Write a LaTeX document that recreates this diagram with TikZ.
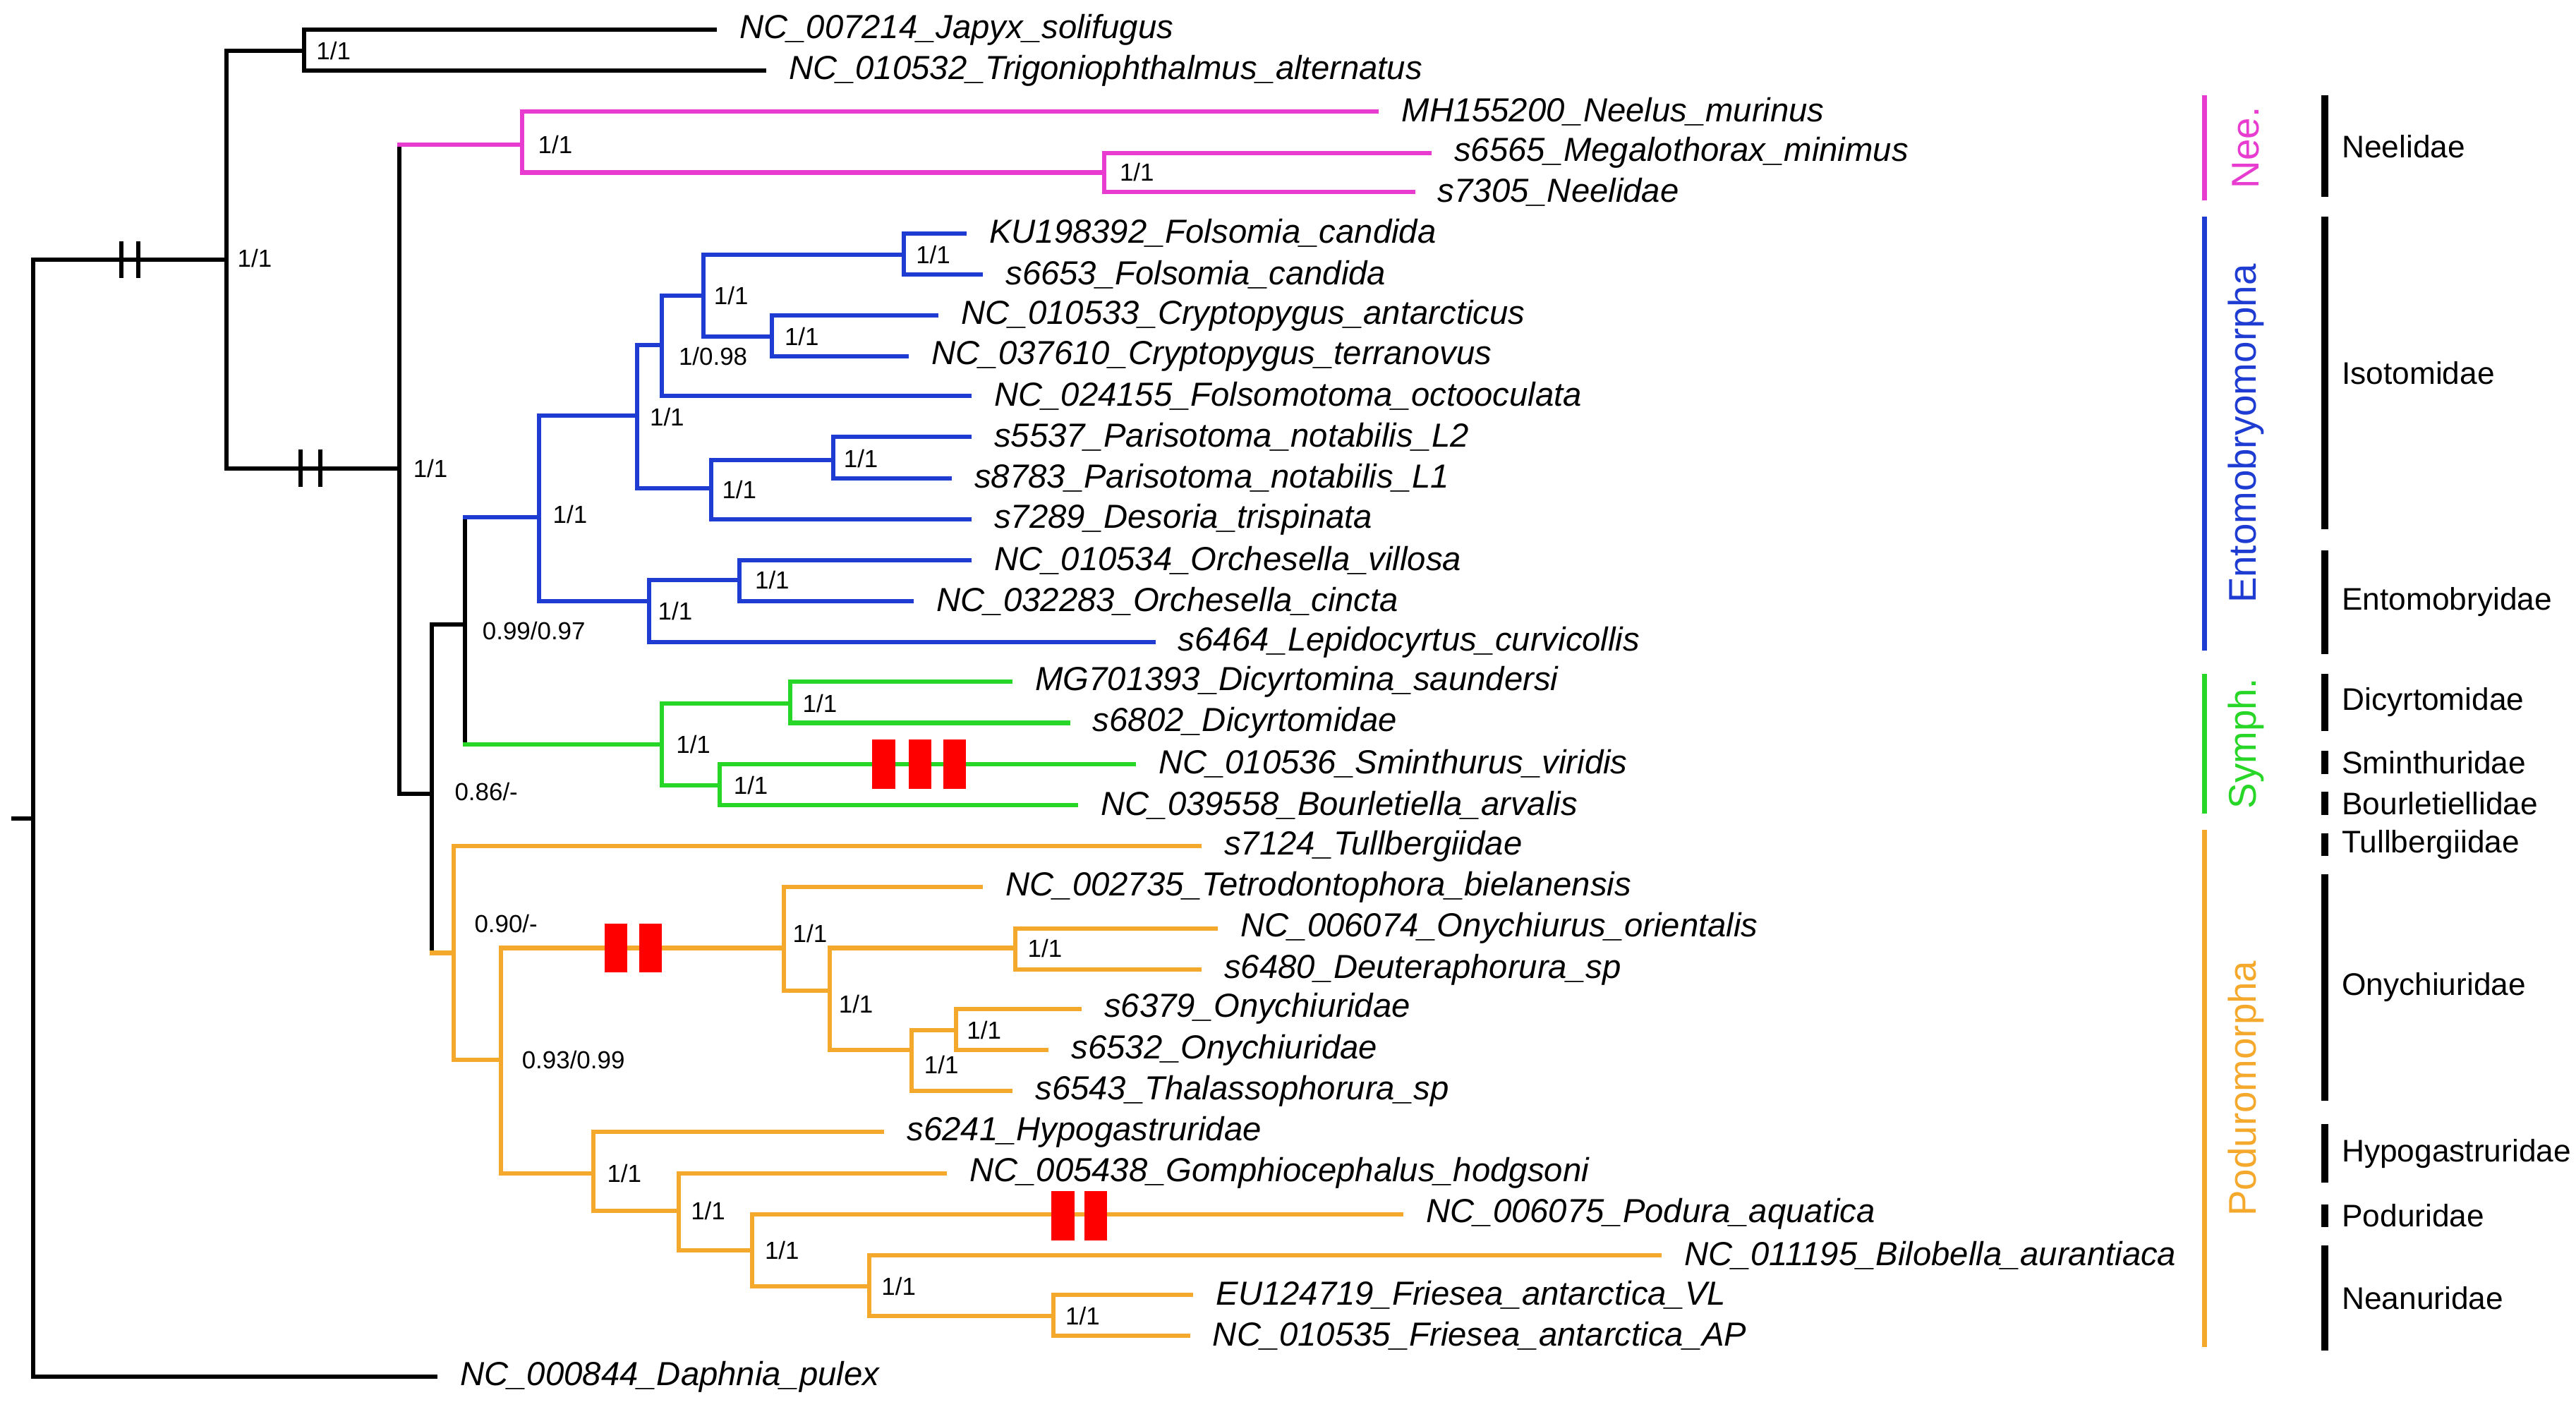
\documentclass[tikz,border=0pt]{standalone}
\usepackage{fontspec}
\setmainfont{Liberation Sans}
\usetikzlibrary{positioning}
\definecolor{magclade}{RGB}{232,60,208}
\definecolor{blueclade}{RGB}{30,60,210}
\definecolor{greenclade}{RGB}{40,214,40}
\definecolor{orgclade}{RGB}{244,168,44}
\begin{document}
\begin{tikzpicture}[x=1pt,y=-1pt]
	\tikzstyle{br}=[line width=2.6pt, line cap=rect]
	\tikzstyle{leaf}=[anchor=west, inner sep=0pt, font=\fontsize{20.3}{24}\selectfont\itshape]
	\tikzstyle{sup}=[font=\fontsize{15}{18}\selectfont]
	\tikzstyle{fam}=[anchor=west, font=\fontsize{19}{22}\selectfont]
	\tikzstyle{clade}=[rotate=90, font=\fontsize{23.5}{28}\selectfont]
	\tikzstyle{redmark}=[fill=red, draw=none]
	\useasboundingbox (0,0) rectangle (1568,856);
	
	% noeuds internes
	\foreach \n/\x/\y in {r/20/498, A/138/158, B/185/31, C/243/285, N/318/88, N2/672/105,
		E1/263/483, E2/283/380, EN/328/315, I/388/253, I1/403/210, I3/428/180, I4/550/155,
		I5/470/205, I2/433/297, I6/507/280, EB/395/366, EB1/450/353, S/403/453, S1/481/428,
		S2/438/478, P/276/580, P1/305/645, O/477/577, O1/505/603, O2/618/577, O3/555/639,
		O4/582/627, H/361/714, H1/413/737, H2/458/761, H3/529/783, H4/641/801}
		\coordinate (\n) at (\x,\y);
	\coordinate (r0) at (8,498);
	
	% feuilles
	\foreach \n/\x/\y/\t in {japyx/435/18/NC\_007214\_Japyx\_solifugus,
		trigo/465/43/NC\_010532\_Trigoniophthalmus\_alternatus,
		neelus/838/68/MH155200\_Neelus\_murinus,
		mega/870/93/s6565\_Megalothorax\_minimus,
		neel/860/117/s7305\_Neelidae,
		fcand/587/142/KU198392\_Folsomia\_candida,
		fcandb/597/167/s6653\_Folsomia\_candida,
		cant/570/192/NC\_010533\_Cryptopygus\_antarcticus,
		cter/552/217/NC\_037610\_Cryptopygus\_terranovus,
		focto/590/241/NC\_024155\_Folsomotoma\_octooculata,
		pnotb/590/266/s5537\_Parisotoma\_notabilis\_L2,
		pnota/578/291/s8783\_Parisotoma\_notabilis\_L1,
		desor/590/316/s7289\_Desoria\_trispinata,
		ovil/590/341/NC\_010534\_Orchesella\_villosa,
		ocin/555/366/NC\_032283\_Orchesella\_cincta,
		lepi/702/391/s6464\_Lepidocyrtus\_curvicollis,
		dsau/615/415/MG701393\_Dicyrtomina\_saundersi,
		dicy/650/440/s6802\_Dicyrtomidae,
		smin/690/465/NC\_010536\_Sminthurus\_viridis,
		bour/655/490/NC\_039558\_Bourletiella\_arvalis,
		tull/730/515/s7124\_Tullbergiidae,
		tetr/597/540/NC\_002735\_Tetrodontophora\_bielanensis,
		onyo/740/565/NC\_006074\_Onychiurus\_orientalis,
		deut/730/590/s6480\_Deuteraphorura\_sp,
		onya/657/614/s6379\_Onychiuridae,
		onyb/637/639/s6532\_Onychiuridae,
		thal/615/664/s6543\_Thalassophorura\_sp,
		hypo/537/689/s6241\_Hypogastruridae,
		gomp/575/714/NC\_005438\_Gomphiocephalus\_hodgsoni,
		podu/853/739/NC\_006075\_Podura\_aquatica,
		bilo/1010/764/NC\_011195\_Bilobella\_aurantiaca,
		frva/725/788/EU124719\_Friesea\_antarctica\_VL,
		frap/723/813/NC\_010535\_Friesea\_antarctica\_AP,
		daph/265/838/NC\_000844\_Daphnia\_pulex}
		{\coordinate (\n) at (\x,\y);
		 \node[leaf] (\n-lab) at (\x+15,\y) {\t};}
	
	% branches
	\draw[br] (r0) -- (r);
	\foreach \p/\c in {r/A, r/daph, A/B, A/C, B/japyx, B/trigo, C/E1, E1/E2}
		\draw[br] (\p) |- (\c);
	% bases des clades : verticale noire, horizontale en couleur
	\foreach \p/\c/\k in {C/N/magclade, E2/EN/blueclade, E2/S/greenclade, E1/P/orgclade}
		{\draw[br] (\p) -- (\p |- \c);
		 \draw[br, \k] (\p |- \c) -- (\c);}
	\foreach \p/\c in {N/neelus, N/N2, N2/mega, N2/neel}
		\draw[br, magclade] (\p) |- (\c);
	\foreach \p/\c in {EN/I, EN/EB, I/I1, I/I2, I1/I3, I1/focto, I3/I4, I3/I5,
		I4/fcand, I4/fcandb, I5/cant, I5/cter, I2/I6, I2/desor, I6/pnotb, I6/pnota,
		EB/EB1, EB/lepi, EB1/ovil, EB1/ocin}
		\draw[br, blueclade] (\p) |- (\c);
	\foreach \p/\c in {S/S1, S/S2, S1/dsau, S1/dicy, S2/smin, S2/bour}
		\draw[br, greenclade] (\p) |- (\c);
	\foreach \p/\c in {P/tull, P/P1, P1/O, P1/H, O/tetr, O/O1, O1/O2, O1/O3,
		O2/onyo, O2/deut, O3/O4, O3/thal, O4/onya, O4/onyb, H/hypo, H/H1, H1/gomp,
		H1/H2, H2/podu, H2/H3, H3/bilo, H3/H4, H4/frva, H4/frap}
		\draw[br, orgclade] (\p) |- (\c);
	
	% coupures
	\foreach \x/\y in {74/158, 84/158, 183/285, 195/285}
		\draw[br] (\x,\y-10) -- (\x,\y+10);
	
	% marques rouges
	\foreach \x/\y in {531/465, 553/465, 574/465, 368/577, 389/577, 640/740, 660/740}
		\fill[redmark] (\x,\y-15) rectangle (\x+14,\y+15);
	
	% supports
	\foreach \x/\y/\t in {203/31/{1/1}, 155/157/{1/1}, 262/285/{1/1}, 338/88/{1/1},
		692/105/{1/1}, 296/482/{0.86/-}, 325/384/{0.99/0.97}, 347/313/{1/1},
		406/254/{1/1}, 434/217/{1/0.98}, 445/180/{1/1}, 568/155/{1/1}, 488/205/{1/1},
		450/298/{1/1}, 524/279/{1/1}, 411/372/{1/1}, 470/353/{1/1}, 422/453/{1/1},
		499/428/{1/1}, 457/478/{1/1}, 308/562/{0.90/-}, 349/645/{0.93/0.99},
		493/568/{1/1}, 521/611/{1/1}, 636/577/{1/1}, 573/648/{1/1}, 599/627/{1/1},
		380/714/{1/1}, 431/737/{1/1}, 476/761/{1/1}, 547/783/{1/1}, 659/801/{1/1}}
		\node[sup] at (\x,\y) {\t};
	
	% clades
	\foreach \y/\z/\c/\t in {58/122/magclade/Nee., 132/396/blueclade/Entomobryomorpha,
		410/495/greenclade/Symph., 505/820/orgclade/Poduromorpha}
		{\draw[line width=3pt, \c] (1342,\y) -- (1342,\z);
		 \node[clade, text=\c] at (1367,{(\y+\z)/2}) {\t};}
	
	% familles
	\foreach \y/\z/\t in {58/120/Neelidae, 132/322/Isotomidae, 335/398/Entomobryidae,
		410/445/Dicyrtomidae, 457/471/Sminthuridae, 482/496/Bourletiellidae,
		507/521/Tullbergiidae, 532/670/Onychiuridae, 684/720/Hypogastruridae,
		733/747/Poduridae, 758/822/Neanuridae}
		{\draw[line width=4.5pt] (1415,\y) -- (1415,\z);
		 \node[fam] at (1422,{(\y+\z)/2}) {\t};}
\end{tikzpicture}
\end{document}
